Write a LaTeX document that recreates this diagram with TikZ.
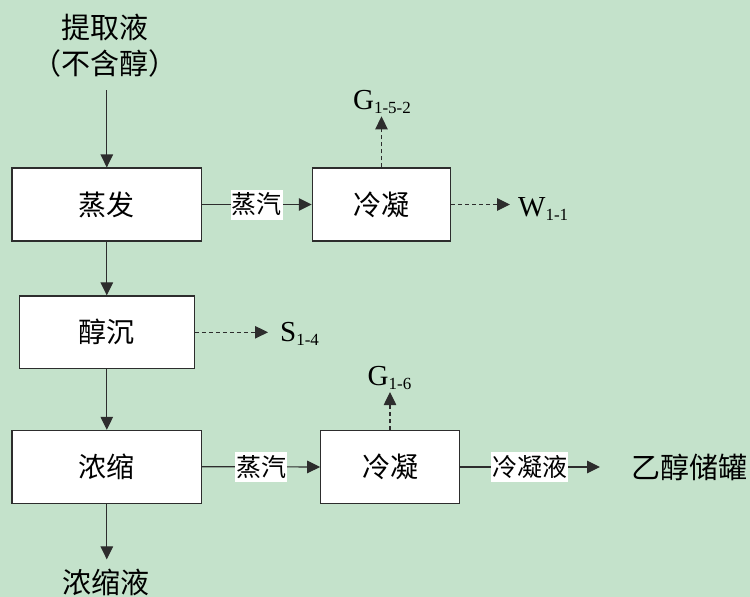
\documentclass[tikz,border=0pt]{standalone}
\usepackage{fontspec}
\setmainfont{Liberation Serif}
\newfontfamily\cjk{Noto Sans CJK SC}
\usetikzlibrary{arrows.meta}
\definecolor{bg}{RGB}{196,226,203}
\definecolor{ln}{RGB}{45,45,45}
\newcommand{\mysub}[1]{\raisebox{-4pt}{\fontsize{17}{17}\selectfont #1}}
\begin{document}
\begin{tikzpicture}[x=1pt,y=-1pt,
  box/.style={draw=ln, line width=1.1pt, fill=white, inner sep=0pt, font=\cjk\fontsize{28}{28}\selectfont},
  flow/.style={draw=ln, line width=1.1pt, -{Triangle[length=13pt,width=12.5pt]}},
  dflow/.style={flow, dash pattern=on 4pt off 3pt},
  lab/.style={fill=white, inner xsep=1pt, inner ysep=0pt, minimum height=30pt, font=\cjk\fontsize{25}{25}\selectfont},
  txt/.style={inner sep=0pt, font=\cjk\fontsize{29}{29}\selectfont},
  ltxt/.style={inner sep=0pt, font=\fontsize{29}{29}\selectfont}]
\fill[bg] (0,0) rectangle (750,597);
\useasboundingbox (0,0) rectangle (750,597);

\node[box, minimum width=189.7pt, minimum height=73pt] (evap) at (106.8,204.5) {蒸发};
\node[box, minimum width=138.4pt, minimum height=73pt] (cond1) at (381.5,204.5) {冷凝};
\node[box, minimum width=175pt, minimum height=72.7pt] (alc) at (106.8,332.3) {醇沉};
\node[box, minimum width=189.7pt, minimum height=72.7pt] (conc) at (106.8,466.7) {浓缩};
\node[box, minimum width=138.6pt, minimum height=72.7pt] (cond2) at (390,467) {冷凝};

\node[txt] (in1) at (105,27) {提取液};
\node[txt] (in2) at (105,63) {（不含醇）};
\node[txt] (out) at (106,582) {浓缩液};
\node[txt, anchor=west] (tank) at (631,467) {乙醇储罐};
\node[ltxt, anchor=base west] (w) at (518,216) {W\mysub{1-1}};
\node[ltxt, anchor=base west] (s) at (280,341.5) {S\mysub{1-4}};
\node[ltxt, anchor=base] (g1) at (382,109.3) {G\mysub{1-5-2}};
\node[ltxt, anchor=base] (g2) at (389.5,385) {G\mysub{1-6}};

\draw[flow, shorten <=13pt] (in2.south -| evap.north) -- (evap.north);
\draw[flow] (evap) -- (alc);
\draw[flow] (alc) -- (conc);
\draw[flow, shorten >=9pt] (conc.south) -- (conc.south |- out.north);
\draw[flow] (evap.east) -- node[lab]{蒸汽} (cond1.west);
\draw[flow] (conc.east) -- node[lab]{蒸汽} (cond2.west);
\draw[flow] (cond2.east) -- node[lab]{冷凝液} ([xshift=-31pt]tank.west);
\draw[dflow, shorten >=8pt] (cond1.east) -- (cond1.east -| w.west);
\draw[dflow, shorten >=12pt] (alc.east) -- (alc.east -| s.west);
\draw[dflow, shorten >=2.7pt] (cond1.north) -- (cond1.north |- g1.south);
\draw[dflow, shorten >=2.7pt] (cond2.north) -- (cond2.north |- g2.south);
\end{tikzpicture}
\end{document}
